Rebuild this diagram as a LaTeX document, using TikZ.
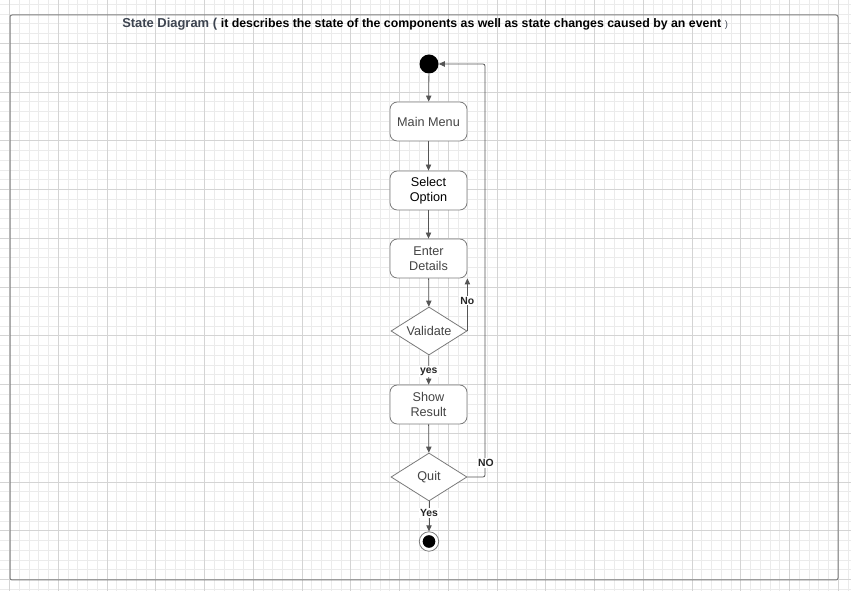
\documentclass[tikz,border=0pt]{standalone}
\usepackage{fontspec}
\setmainfont{Liberation Sans}
\usetikzlibrary{shapes.geometric,arrows.meta}
\definecolor{gmin}{HTML}{EBEBEB}
\definecolor{gmaj}{HTML}{D4D4D4}
\definecolor{ln}{HTML}{555555}
\definecolor{bd}{HTML}{7A7A7A}
\definecolor{tx}{HTML}{444444}
\definecolor{ttl}{HTML}{3D4450}
\definecolor{frm}{HTML}{7E7E7E}
\begin{document}
\begin{tikzpicture}[x=0.75pt,y=-0.75pt,
  state/.style={draw=bd,fill=white,line width=0.6pt,rounded corners=5.5pt,minimum width=57.75pt,minimum height=29.25pt,inner sep=0pt,align=center,font=\fontsize{9.5}{11.5}\selectfont,text=tx},
  dec/.style={draw=bd,fill=white,line width=0.6pt,diamond,aspect=1.58,minimum width=57pt,minimum height=36pt,inner sep=0pt,font=\fontsize{9.5}{11.5}\selectfont,text=tx},
  arr/.style={draw=ln,line width=0.6pt,-{Triangle[length=4.5pt,width=4pt]}},
  lbl/.style={fill=white,inner sep=1pt,font=\bfseries\fontsize{7.8}{9}\selectfont,text=black!85}]
\useasboundingbox (0,0) rectangle (851,591);
\clip (0,0) rectangle (851,591);
\fill[white] (0,0) rectangle (851,591);
% grid
\foreach \i in {0,...,88} \draw[gmin,line width=0.75pt] ({-0.2+9.75*\i},0) -- ({-0.2+9.75*\i},591);
\foreach \i in {0,...,61} \draw[gmin,line width=0.75pt] (0,{-5.45+9.75*\i}) -- (851,{-5.45+9.75*\i});
\foreach \i in {0,...,17} \draw[gmaj,line width=0.75pt] ({9.55+48.75*\i},0) -- ({9.55+48.75*\i},591);
\foreach \i in {0,...,13} \draw[gmaj,line width=0.75pt] (0,{-5.45+48.75*\i}) -- (851,{-5.45+48.75*\i});
% frame
\draw[frm,line width=0.75pt,rounded corners=1.5pt] (10,15) rectangle (838,580);
% title
\node[anchor=base west,inner sep=0pt] (title) at (122,28) {\textcolor{ttl}{\bfseries\fontsize{9.7}{11}\selectfont State Diagram (} {\bfseries\fontsize{9.25}{11}\selectfont it describes the state of the components as well as state changes caused by an event} \textcolor{ttl}{\fontsize{7}{9}\selectfont)}};
% nodes
\node[circle,fill=black,minimum size=14.25pt,inner sep=0pt] (init) at (429,64) {};
\node[state] (mm) at (428.5,121.5) {Main Menu};
\node[state,text=black] (so) at (428.5,190.5) {Select\\Option};
\node[state] (ed) at (428.5,258.5) {Enter\\Details};
\node[dec] (val) at (429,331) {Validate};
\node[state] (sr) at (428.5,404.5) {Show\\Result};
\node[dec] (quit) at (429,477) {Quit};
\node[circle,draw=bd,fill=white,line width=0.6pt,minimum size=14.6pt,inner sep=0pt] (fin) at (429,541.5) {};
\node[circle,fill=black,minimum size=9.5pt,inner sep=0pt] (finin) at (fin) {};
\coordinate (lp) at (485,64);
% connectors
\draw[arr] (init) -- (mm);
\draw[arr] (mm) -- (so);
\draw[arr] (so) -- (ed);
\draw[arr] (ed) -- (val);
\draw[arr] (val) -- node[lbl,pos=0.55]{yes} (sr);
\draw[arr] (sr) -- (quit);
\draw[arr] (quit) -- node[lbl,pos=0.4]{Yes} (fin);
\draw[arr] (val.east) -| node[lbl,pos=0.79]{No} (ed.south east);
\draw[arr,rounded corners=1.5pt] (quit.east) -| (lp) -- (init.east);
\node[lbl] (nolbl) at (486,463) {NO};
\end{tikzpicture}
\end{document}
